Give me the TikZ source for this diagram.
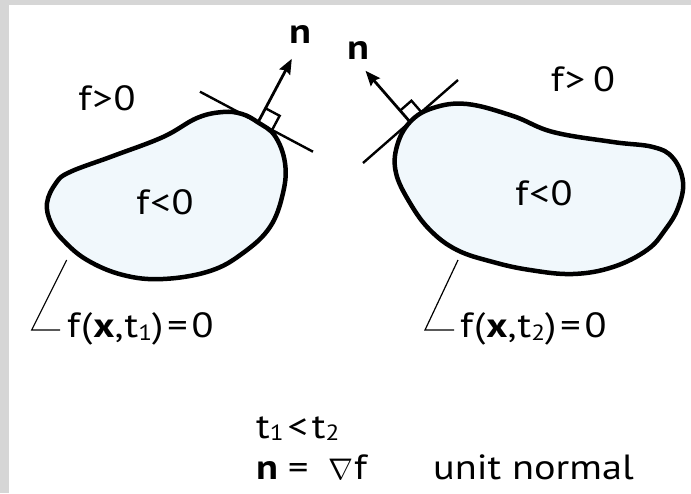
\documentclass[tikz,border=0pt]{standalone}
\usepackage{fontspec}
\setmainfont{PT Sans}[FakeStretch=1.15,LetterSpace=3]
\usetikzlibrary{arrows.meta,calc}
\definecolor{framegray}{HTML}{D6D6D6}
\definecolor{blobfill}{HTML}{F1F8FC}
\tikzset{
  blob/.style={draw=black,line width=4.5pt,fill=blobfill,line join=round},
  tangentline/.style={draw=black,line width=2.4pt},
  normalarrow/.style={draw=black,line width=2.8pt,-{Stealth[length=15pt,width=12pt,inset=2pt]}},
  rightmark/.style={draw=black,line width=2.4pt},
  leader/.style={draw=black,line width=1.2pt},
  lbl/.style={inner sep=0pt,font=\fontsize{35}{40}\selectfont},
  blbl/.style={inner sep=0pt,font=\fontsize{35}{40}\selectfont\bfseries},
  tight/.style={anchor=base west,text height=24pt,text depth=3pt},
}
\newcommand{\rk}{\kern1pt}
\newcommand{\lowidx}[1]{\raisebox{-2.5pt}{\fontsize{22}{22}\selectfont #1}}
\begin{document}
\begin{tikzpicture}[x=1pt,y=-1pt]
\useasboundingbox (0,0) rectangle (691,493);
\fill[framegray] (0,0) rectangle (691,493);
\fill[white] (9,5) rectangle (691,493);

% left blob
\draw[blob] plot[smooth cycle,tension=0.65] coordinates {
 (47,203) (56,183) (70,172) (113,156) (163,137) (197,118) (223,112) (242,114)
 (258,122.4) (275,136) (285,163) (283,193) (270,227) (243,253) (210,271)
 (163,279) (123,275) (87,260) (63,240) (51,223)};
% right blob
\draw[blob] plot[smooth cycle,tension=0.65] coordinates {
 (410,122) (433,108) (467,104) (513,116) (553,132) (613,142) (653,147)
 (673,158) (683,182) (678,208) (665,230) (647,250) (613,267) (573,274)
 (530,270) (493,262) (457,250) (430,230) (410,203) (396,173) (397,146)};

% left tangent and normal
\coordinate (TLa) at (200,91.7);
\coordinate (TLb) at (313,151.7);
\coordinate (TL) at (258,122.4);
\coordinate (NL) at (291.8,58.8);
\draw[tangentline] (TLa) -- (TLb);
\coordinate (QL1) at ($(TL)!16pt!(TLb)$);
\coordinate (QL3) at ($(TL)!16pt!(NL)$);
\draw[rightmark] (QL1) -- ($(QL1)+(QL3)-(TL)$) -- (QL3);
\draw[normalarrow] (TL) -- (NL);
\node[blbl] (nL) at (300,35) {n};

% right tangent and normal
\coordinate (TRa) at (363,163);
\coordinate (TRb) at (458,80);
\coordinate (TR) at (410,121.9);
\coordinate (NR) at (365.5,70.8);
\draw[tangentline] (TRa) -- (TRb);
\coordinate (QR1) at ($(TR)!15pt!(TRb)$);
\coordinate (QR3) at ($(TR)!15pt!(NR)$);
\draw[rightmark] (QR1) -- ($(QR1)+(QR3)-(TR)$) -- (QR3);
\draw[normalarrow] (TR) -- (NR);
\node[blbl] (nR) at (358,51) {n};

% region labels
\node[lbl] (fgL) at (107,98) {f\rk>\rk0};
\node[lbl] (flL) at (165,202) {f\rk<\rk0};
\node[lbl] (fgR) at (583,79) {f\rk>\kern8pt0};
\node[lbl] (flR) at (544,193) {f\rk<\rk0};

% leaders and curve labels
\coordinate (LA) at (66.7,260);
\coordinate (LB) at (31.7,330);
\coordinate (LC) at (60,330);
\draw[leader] (LA) -- (LB) -- (LC);
\node[lbl,anchor=west] (eqL) at (67,329) {f(\textbf{x},t\lowidx{1})\kern4pt=\kern4pt0};
\coordinate (RA) at (458,260);
\coordinate (RB) at (425,330);
\coordinate (RC) at (454,330);
\draw[leader] (RA) -- (RB) -- (RC);
\node[lbl,anchor=west] (eqR) at (460,329) {f(\textbf{x},t\lowidx{2})\kern4pt=\kern4pt0};

% bottom text
\node[lbl,tight] (tt) at (256,438) {t\lowidx{1}\kern4pt<\kern4pt t\lowidx{2}};
\node[lbl,tight] (nn) at (256,479) {\textbf{n}\kern9pt=};
\node[lbl,tight] (grad) at (328,479) {\scalebox{1.2}{$\nabla$}\kern1pt f};
\node[lbl,tight] (un) at (433,479) {\addfontfeatures{LetterSpace=0}unit normal};
\end{tikzpicture}
\end{document}
